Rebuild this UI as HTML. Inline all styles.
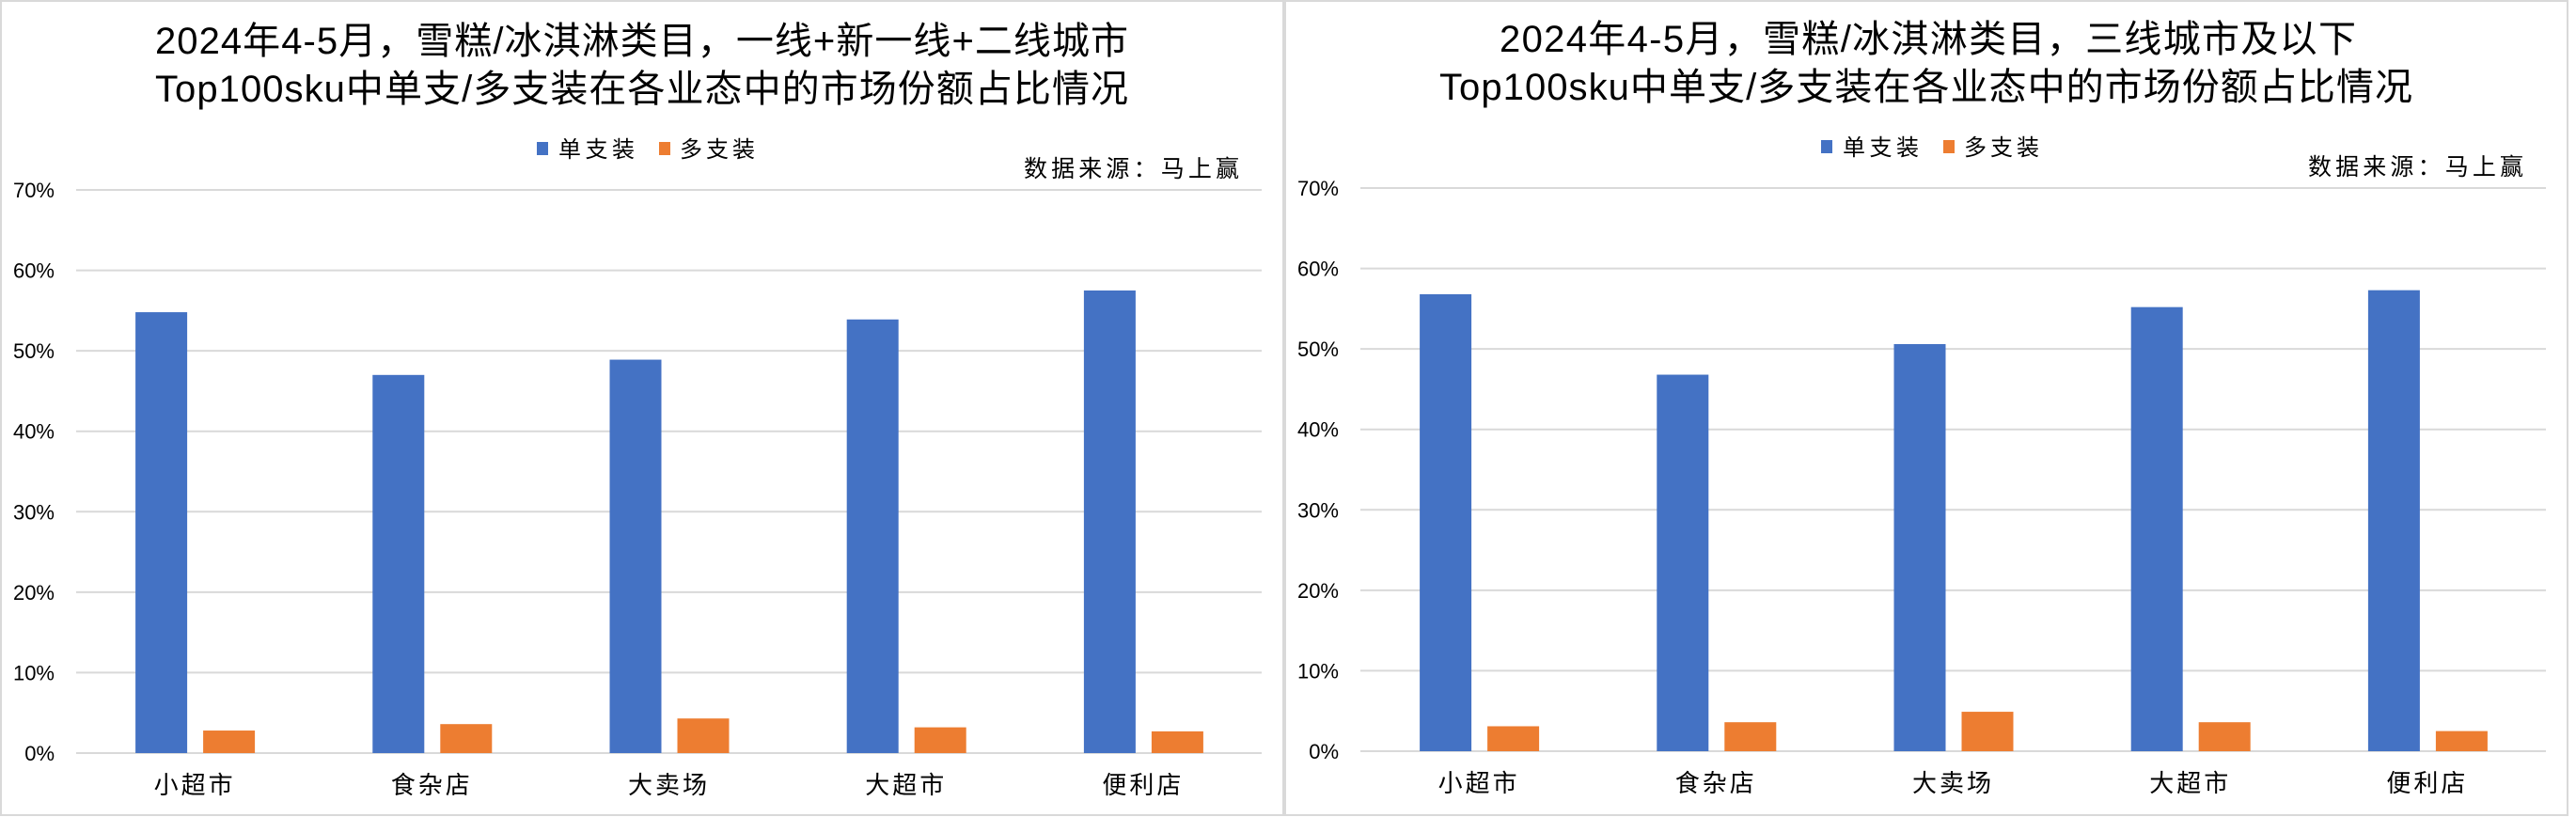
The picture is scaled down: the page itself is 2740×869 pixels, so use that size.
<!DOCTYPE html>
<html><head><meta charset="utf-8"><style>
html,body{margin:0;padding:0;background:#fff;}
svg{display:block;}
text{font-family:"Liberation Sans","Noto Sans CJK SC",sans-serif;fill:#000;}
.cjk{font-family:"Noto Serif CJK SC","Noto Sans CJK SC",serif;}
</style></head><body>
<svg id="chart" width="2740" height="869" viewBox="0 0 2740 869" xmlns="http://www.w3.org/2000/svg"></svg>
<script>
const categories = ["小超市","食杂店","大卖场","大超市","便利店"];
const leftSingle = [54.8, 47.0, 48.9, 53.9, 57.5];
const leftMulti = [2.8, 3.6, 4.3, 3.2, 2.7];
const rightSingle = [56.8, 46.8, 50.6, 55.2, 57.3];
const rightMulti = [3.1, 3.6, 4.9, 3.6, 2.5];
const yTicks = [0,10,20,30,40,50,60,70];
const yTickLabels = ["0%","10%","20%","30%","40%","50%","60%","70%"];
const leftTitle1 = "2024年4-5月，雪糕/冰淇淋类目，一线+新一线+二线城市";
const rightTitle1 = "2024年4-5月，雪糕/冰淇淋类目，三线城市及以下";
const title2 = "Top100sku中单支/多支装在各业态中的市场份额占比情况";

const NS = "http://www.w3.org/2000/svg";
const svg = document.getElementById("chart");
function mk(tag, attrs, parent){
  const e = document.createElementNS(NS, tag);
  for (const k in attrs) e.setAttribute(k, attrs[k]);
  (parent||svg).appendChild(e);
  return e;
}

function panel(ox, dy, t1, t1x0, t1x1, single, multi, name){
  const g = mk("g", {});
  
  
  const border = mk("rect", {x: ox+1, y: 1, width: 1364, height: 866, fill: "none", stroke: "#d9d9d9", "stroke-width": 2}, g);
  
  

  const plotL = ox + 81, plotR = ox + 1342;
  const yTop = 202 + dy, yBot = 801 + dy;
  const yScale = v => yBot - (v/70)*(yBot - yTop);
  const band = (plotR - plotL)/categories.length;
  const xCenter = i => plotL + band*(i+0.5);

  // titles
  const ta = mk("text", {x: ox+t1x0, y: 57+dy, "font-size": 40, textLength: t1x1-t1x0, lengthAdjust: "spacing"}, g);
  ta.textContent = t1;
  
  
  const tb = mk("text", {x: ox+165, y: 108+dy, "font-size": 40, textLength: 1035, lengthAdjust: "spacing"}, g);
  tb.textContent = title2;
  
  

  // legend
  const l1 = mk("rect", {x: ox+571, y: 151+dy, width: 12, height: 14, fill: "#4472c4"}, g);
  
  
  const lt1 = mk("text", {x: ox+594, y: 167+dy, "font-size": 24, textLength: 81, lengthAdjust: "spacing", fill: "#404040"}, g);
  lt1.textContent = "单支装";
  
  
  const l2 = mk("rect", {x: ox+701, y: 151+dy, width: 12, height: 14, fill: "#ed7d31"}, g);
  
  
  const lt2 = mk("text", {x: ox+723, y: 167+dy, "font-size": 24, textLength: 80, lengthAdjust: "spacing", fill: "#404040"}, g);
  lt2.textContent = "多支装";
  
  

  // source
  const src = mk("text", {x: ox+1089, y: 188+dy, "font-size": 25, textLength: 229, lengthAdjust: "spacing", fill: "#262626"}, g);
  src.textContent = "数据来源：马上赢";
  
  

  // grid + y ticks
  yTicks.forEach((v, i) => {
    const y = yScale(v);
    const gl = mk("line", {x1: plotL, x2: plotR, y1: y, y2: y, stroke: "#d9d9d9", "stroke-width": 2}, g);
    
    
    const tl = mk("text", {x: ox+58, y: y+8, "font-size": 22, "text-anchor": "end", fill: "#404040"}, g);
    tl.textContent = yTickLabels[i];
    
    
  });

  // bars
  categories.forEach((c, i) => {
    const cx = xCenter(i);
    const b1 = mk("rect", {x: cx-63, y: yScale(single[i]), width: 55, height: yBot - yScale(single[i]), fill: "#4472c4"}, g);
    
    
    const b2 = mk("rect", {x: cx+9, y: yScale(multi[i]), width: 55, height: yBot - yScale(multi[i]), fill: "#ed7d31"}, g);
    
    
    const xl = mk("text", {x: cx, y: yBot+43, "font-size": 26, "text-anchor": "middle", fill: "#404040", "letter-spacing": 3}, g);
    xl.textContent = c;
    
    
  });
}

panel(0, 0, leftTitle1, 165, 1200, leftSingle, leftMulti, "left-chart");
panel(1366, -2, rightTitle1, 229, 1140, rightSingle, rightMulti, "right-chart");
</script>
</body></html>
